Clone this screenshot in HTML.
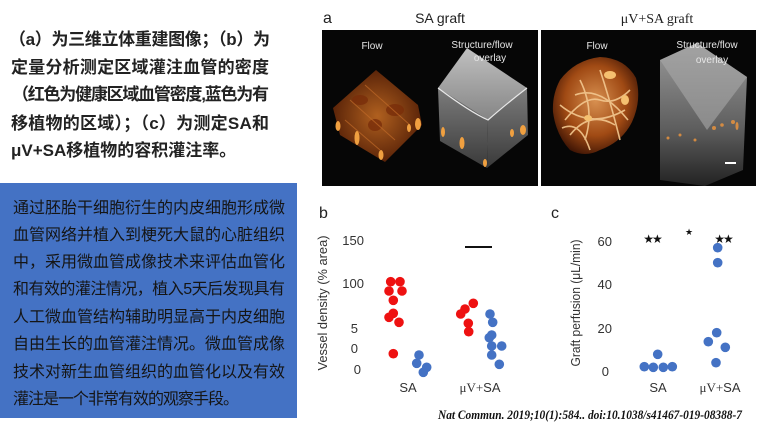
<!DOCTYPE html>
<html><head><meta charset="utf-8"><style>
html,body{margin:0;padding:0;background:#fff;}
svg{display:block;}
.cn{font-family:"Liberation Sans","Noto Sans CJK SC",sans-serif;}
.ls{font-family:"Liberation Sans",sans-serif;}
.sf{font-family:"Liberation Serif",serif;}
</style></head><body>
<svg width="760" height="437" viewBox="0 0 760 437" xmlns="http://www.w3.org/2000/svg">
<defs>
<linearGradient id="gc" x1="0" y1="0" x2="0" y2="1"><stop offset="0" stop-color="#c0c0c0"/><stop offset="1" stop-color="#858585"/></linearGradient>
<linearGradient id="gs" x1="0" y1="0" x2="0" y2="1"><stop offset="0" stop-color="#7c7c7c"/><stop offset="1" stop-color="#3a3a3a"/></linearGradient>
<linearGradient id="gr" x1="0" y1="0" x2="0" y2="1"><stop offset="0" stop-color="#9a9a9a"/><stop offset="0.6" stop-color="#5e5e5e"/><stop offset="1" stop-color="#222"/></linearGradient>
<radialGradient id="go" cx="0.5" cy="0.5" r="0.6"><stop offset="0" stop-color="#b0601f"/><stop offset="1" stop-color="#4a1804"/></radialGradient>
<radialGradient id="gt" cx="0.5" cy="0.45" r="0.6"><stop offset="0" stop-color="#d89050"/><stop offset="0.6" stop-color="#a04a14"/><stop offset="1" stop-color="#3a1204"/></radialGradient>
</defs>
<rect width="760" height="437" fill="#fff"/>

<!-- top-left text -->
<g class="cn" font-size="17" font-weight="bold" fill="#222">
<text x="9" y="45" textLength="261" lengthAdjust="spacing">（a）为三维立体重建图像；（b）为</text>
<text x="11" y="73" textLength="258" lengthAdjust="spacing">定量分析测定区域灌注血管的密度</text>
<text x="12" y="100" textLength="257" lengthAdjust="spacing">（红色为健康区域血管密度,蓝色为有</text>
<text x="11" y="129" textLength="258" lengthAdjust="spacing">移植物的区域）；（c）为测定SA和</text>
<text x="11" y="156">μV+SA移植物的容积灌注率。</text>
</g>

<!-- blue box -->
<rect x="0" y="183" width="297" height="235" fill="#4472c4"/>
<g class="cn" font-size="16" fill="#151515">
<text x="13" y="213" textLength="272" lengthAdjust="spacing">通过胚胎干细胞衍生的内皮细胞形成微</text>
<text x="13" y="240" textLength="272" lengthAdjust="spacing">血管网络并植入到梗死大鼠的心脏组织</text>
<text x="13" y="267" textLength="272" lengthAdjust="spacing">中，采用微血管成像技术来评估血管化</text>
<text x="13" y="294" textLength="272" lengthAdjust="spacing">和有效的灌注情况，植入5天后发现具有</text>
<text x="13" y="322" textLength="272" lengthAdjust="spacing">人工微血管结构辅助明显高于内皮细胞</text>
<text x="13" y="349" textLength="272" lengthAdjust="spacing">自由生长的血管灌注情况。微血管成像</text>
<text x="13" y="377" textLength="272" lengthAdjust="spacing">技术对新生血管组织的血管化以及有效</text>
<text x="13" y="404" textLength="226" lengthAdjust="spacing">灌注是一个非常有效的观察手段。</text>
</g>

<!-- panel a -->
<text x="323" y="23" class="ls" font-size="16" fill="#222">a</text>
<text x="440" y="23" class="ls" font-size="14" fill="#222" text-anchor="middle">SA graft</text>
<text x="657" y="23" class="sf" font-size="14" fill="#222" text-anchor="middle">μV+SA graft</text>

<rect x="322" y="30" width="216" height="156" fill="#060606"/>
<rect x="541" y="30" width="215" height="156" fill="#060606"/>

<!-- left flow cube -->
<polygon points="376,70 418,105 422,125 385,162 340,135 333,108" fill="url(#go)"/>
<g fill="#7a2e0a" opacity="0.8">
<ellipse cx="360" cy="100" rx="8" ry="5"/><ellipse cx="395" cy="110" rx="9" ry="6"/><ellipse cx="375" cy="125" rx="7" ry="6"/>
</g>
<g stroke="#c06a28" stroke-width="1" opacity="0.7">
<path d="M350,100 L395,140"/><path d="M365,85 L410,125"/><path d="M345,120 L380,150"/>
</g>
<g fill="#f0a040">
<ellipse cx="338" cy="126" rx="2.5" ry="5"/><ellipse cx="357" cy="138" rx="2.5" ry="7"/>
<ellipse cx="418" cy="124" rx="3" ry="6"/><ellipse cx="381" cy="155" rx="2.5" ry="5"/>
<ellipse cx="409" cy="128" rx="2" ry="4"/>
</g>

<!-- left grey cube -->
<polygon points="438,88 488,120 487,168 440,141" fill="url(#gs)"/>
<polygon points="488,120 527,88 528,135 487,168" fill="url(#gs)"/>
<polygon points="467,48 527,88 488,120 438,88" fill="url(#gc)"/>
<path d="M438,88 Q470,112 488,120 Q505,105 527,88" fill="none" stroke="#e8e8e8" stroke-width="1.2"/>
<g fill="#f0a040">
<ellipse cx="443" cy="132" rx="2" ry="5"/><ellipse cx="462" cy="143" rx="2.5" ry="6"/>
<ellipse cx="512" cy="133" rx="2" ry="4"/><ellipse cx="523" cy="130" rx="3" ry="5"/><ellipse cx="485" cy="163" rx="2" ry="4"/>
</g>

<!-- right flow tangle -->
<path d="M560,80 Q575,60 600,57 Q625,58 636,78 Q642,100 632,122 Q622,142 600,150 Q585,158 570,150 Q556,135 553,112 Q552,95 560,80 Z" fill="url(#gt)"/>
<g stroke="#f3c890" stroke-width="1.6" fill="none" opacity="0.9">
<path d="M565,120 Q585,95 600,100 T630,90"/><path d="M570,135 Q590,110 615,125"/>
<path d="M580,80 Q595,110 585,140"/><path d="M600,70 Q610,100 620,140"/>
<path d="M560,105 Q590,130 625,110"/><path d="M575,95 Q600,85 628,120"/>
<path d="M562,128 Q580,120 590,150"/>
</g>
<g fill="#f5c070"><ellipse cx="610" cy="75" rx="6" ry="4"/><ellipse cx="625" cy="100" rx="4" ry="5"/><ellipse cx="588" cy="118" rx="4" ry="3"/></g>

<!-- right grey prism -->
<polygon points="660,60 697,43 747,77 743,170 705,186 660,180" fill="url(#gr)"/>
<polygon points="660,60 697,43 747,77 707,130" fill="#a8a8a8" opacity="0.6"/>
<g fill="#e09040" opacity="0.9">
<circle cx="668" cy="138" r="1.5"/><circle cx="680" cy="135" r="1.5"/><circle cx="695" cy="140" r="1.5"/><circle cx="714" cy="128" r="2"/><circle cx="722" cy="125" r="1.8"/><circle cx="733" cy="122" r="2"/><ellipse cx="737" cy="126" rx="1.5" ry="4"/>
</g>
<rect x="725" y="162" width="11" height="2" fill="#fff"/>

<g class="ls" font-size="10" fill="#e6e6e6" text-anchor="middle">
<text x="372" y="49">Flow</text>
<text x="482" y="48">Structure/flow</text>
<text x="490" y="61">overlay</text>
<text x="597" y="49">Flow</text>
<text x="707" y="48">Structure/flow</text>
<text x="712" y="63">overlay</text>
</g>

<!-- panel b -->
<text x="319" y="218" class="ls" font-size="16" fill="#222">b</text>
<text transform="translate(327,303) rotate(-90)" class="ls" font-size="12.5" fill="#333" text-anchor="middle" textLength="135" lengthAdjust="spacingAndGlyphs">Vessel density (% area)</text>
<g class="ls" font-size="13" fill="#333">
<text x="364" y="245" text-anchor="end">150</text>
<text x="364" y="288" text-anchor="end">100</text>
<text x="358" y="333" text-anchor="end">5</text>
<text x="358" y="353" text-anchor="end">0</text>
<text x="361" y="374" text-anchor="end">0</text>
</g>
<rect x="465" y="246" width="27" height="2" fill="#111"/>
<g fill="#ee1111">
<circle cx="390.7" cy="281.7" r="4.8"/><circle cx="400" cy="281.7" r="4.8"/>
<circle cx="389" cy="291" r="4.8"/><circle cx="402" cy="291" r="4.8"/>
<circle cx="393.3" cy="300.3" r="4.8"/><circle cx="393.3" cy="313.3" r="4.8"/>
<circle cx="389" cy="317.3" r="4.8"/><circle cx="399" cy="322.3" r="4.8"/>
<circle cx="393.3" cy="353.7" r="4.8"/>
<circle cx="473.3" cy="303.3" r="4.8"/><circle cx="465" cy="309" r="4.8"/>
<circle cx="460.7" cy="314" r="4.8"/><circle cx="468.3" cy="323.3" r="4.8"/>
<circle cx="468.7" cy="331.7" r="4.8"/>
</g>
<g fill="#4472c4">
<circle cx="419" cy="355" r="4.8"/><circle cx="416.7" cy="363.3" r="4.8"/>
<circle cx="426.7" cy="367.3" r="4.8"/><circle cx="423.3" cy="372.3" r="4.8"/>
<circle cx="490" cy="314" r="4.8"/><circle cx="492.7" cy="322.3" r="4.8"/>
<circle cx="491.7" cy="335" r="4.8"/><circle cx="489.3" cy="337.7" r="4.8"/>
<circle cx="491.7" cy="346" r="4.8"/><circle cx="501.7" cy="346" r="4.8"/>
<circle cx="491.7" cy="355" r="4.8"/><circle cx="499.3" cy="364.3" r="4.8"/>
</g>
<text x="408" y="392" class="ls" font-size="13" fill="#333" text-anchor="middle">SA</text>
<text x="480" y="392" font-size="13" fill="#333" text-anchor="middle"><tspan class="sf">μV+</tspan><tspan class="ls">SA</tspan></text>

<!-- panel c -->
<text x="551" y="218" class="ls" font-size="16" fill="#222">c</text>
<text transform="translate(580,303) rotate(-90)" class="ls" font-size="12.5" fill="#333" text-anchor="middle" textLength="127" lengthAdjust="spacingAndGlyphs">Graft perfusion (μL/min)</text>
<g class="ls" font-size="13" fill="#333">
<text x="612" y="246" text-anchor="end">60</text>
<text x="612" y="289" text-anchor="end">40</text>
<text x="612" y="333" text-anchor="end">20</text>
<text x="609" y="376" text-anchor="end">0</text>
</g>
<g font-family="DejaVu Sans, sans-serif" fill="#111" text-anchor="middle">
<text x="652" y="243" font-size="12" letter-spacing="-2">★★</text>
<text x="689" y="235" font-size="9">★</text>
<text x="723" y="243" font-size="12" letter-spacing="-2">★★</text>
</g>
<g fill="#4472c4">
<circle cx="657.7" cy="354.3" r="4.8"/><circle cx="644.3" cy="366.7" r="4.8"/>
<circle cx="653.3" cy="367.3" r="4.8"/><circle cx="663.3" cy="367.3" r="4.8"/>
<circle cx="672.3" cy="366.7" r="4.8"/>
<circle cx="717.7" cy="247.7" r="4.8"/><circle cx="717.7" cy="262.7" r="4.8"/>
<circle cx="716.7" cy="332.7" r="4.8"/><circle cx="708.3" cy="341.7" r="4.8"/>
<circle cx="725.3" cy="347.3" r="4.8"/><circle cx="716" cy="362.7" r="4.8"/>
</g>
<text x="658" y="392" class="ls" font-size="13" fill="#333" text-anchor="middle">SA</text>
<text x="720" y="392" font-size="13" fill="#333" text-anchor="middle"><tspan class="sf">μV+</tspan><tspan class="ls">SA</tspan></text>

<!-- citation -->
<text x="438" y="419" class="sf" font-size="12.5" font-weight="bold" font-style="italic" fill="#111" textLength="304" lengthAdjust="spacingAndGlyphs">Nat Commun. 2019;10(1):584.. doi:10.1038/s41467-019-08388-7</text>
</svg>
</body></html>
